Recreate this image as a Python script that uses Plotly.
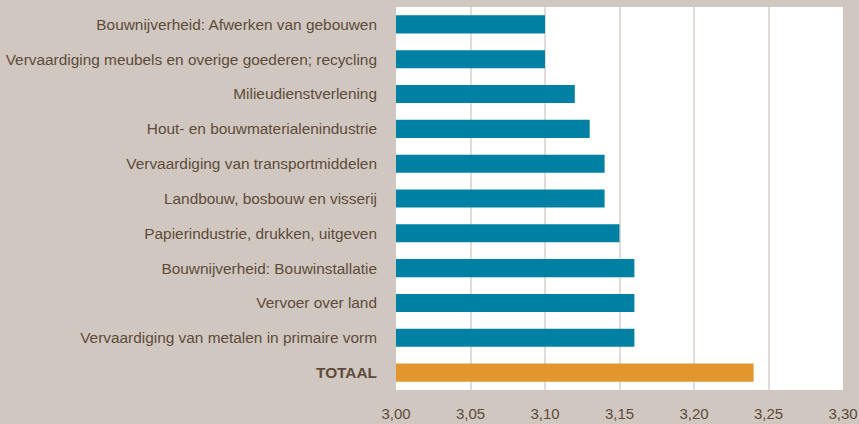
import plotly.graph_objects as go

categories = [
    "Bouwnijverheid: Afwerken van gebouwen",
    "Vervaardiging meubels en overige goederen; recycling",
    "Milieudienstverlening",
    "Hout- en bouwmaterialenindustrie",
    "Vervaardiging van transportmiddelen",
    "Landbouw, bosbouw en visserij",
    "Papierindustrie, drukken, uitgeven",
    "Bouwnijverheid: Bouwinstallatie",
    "Vervoer over land",
    "Vervaardiging van metalen in primaire vorm",
    "TOTAAL",
]
values = [3.10, 3.10, 3.12, 3.13, 3.14, 3.14, 3.15, 3.16, 3.16, 3.16, 3.24]
tick_vals = [3.00, 3.05, 3.10, 3.15, 3.20, 3.25, 3.30]
tick_text = ["3,00", "3,05", "3,10", "3,15", "3,20", "3,25", "3,30"]

teal = "#0081a3"
orange = "#e1962e"
colors = [orange if c == "TOTAAL" else teal for c in categories]
ylabels = ["<b>TOTAAL</b>" if c == "TOTAAL" else c for c in categories]

fig = go.Figure(go.Bar(
    x=[v - 3.0 for v in values],
    base=3.0,
    y=ylabels,
    orientation="h",
    marker=dict(color=colors, line=dict(width=0)),
    width=0.52,
    hoverinfo="skip",
))

fig.update_layout(
    width=859, height=424,
    margin=dict(l=396, r=16, t=7, b=34, autoexpand=False),
    paper_bgcolor="#d0c7c0",
    plot_bgcolor="#ffffff",
    font=dict(family="Liberation Sans, Arial, sans-serif", size=15, color="#5e4b3a"),
    showlegend=False,
)
fig.update_xaxes(
    range=[3.0, 3.30],
    tickvals=tick_vals,
    ticktext=tick_text,
    showgrid=True,
    gridcolor="#e2dbd6",
    gridwidth=2,
    zeroline=False,
    showline=False,
    ticks="",
    automargin=False,
    ticklabelstandoff=13,
    tickfont=dict(size=15, color="#5e4b3a"),
)
fig.update_yaxes(
    autorange="reversed",
    showgrid=False,
    ticks="",
    automargin=False,
    ticklabelstandoff=18,
    tickfont=dict(size=15.4, color="#5e4b3a"),
)

fig.write_html(
    "out.html",
    config={"displayModeBar": False},
    post_script="document.body.style.margin='0';document.body.style.overflow='hidden';",
)
